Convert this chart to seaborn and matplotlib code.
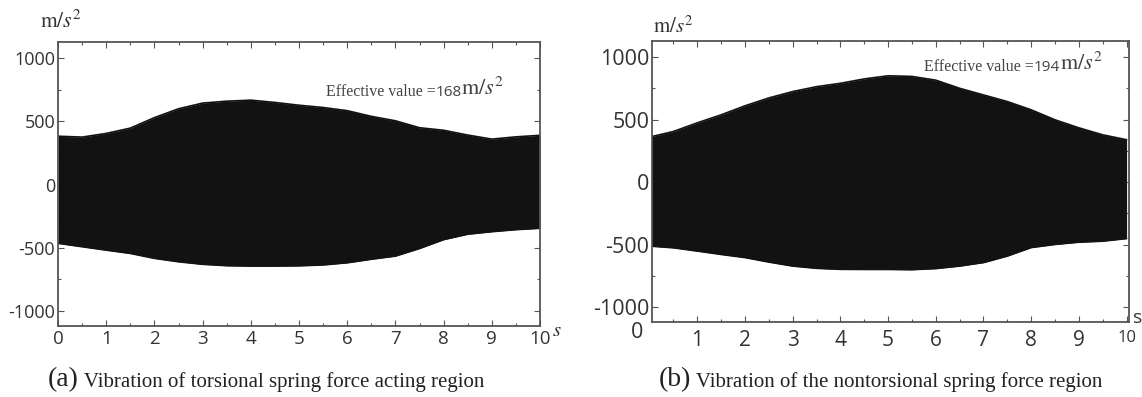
import matplotlib
matplotlib.use("Agg")
import matplotlib.pyplot as plt
from matplotlib.ticker import MultipleLocator
import pandas as pd
import seaborn as sns

# envelope of the vibration signal (m/s^2)
time_s = [0, 0.5, 1, 1.5, 2, 2.5, 3, 3.5, 4, 4.5, 5,
          5.5, 6, 6.5, 7, 7.5, 8, 8.5, 9, 9.5, 10]
upper_a = [383, 376, 405, 447, 530, 600, 645, 660, 668, 650, 628,
           610, 585, 540, 505, 450, 430, 392, 360, 378, 390]
lower_a = [-464, -491, -518, -544, -583, -610, -630, -641, -644, -644, -642,
           -635, -618, -590, -565, -505, -435, -392, -372, -356, -345]
upper_b = [360, 405, 474, 538, 610, 673, 724, 763, 790, 825, 850,
           845, 815, 750, 697, 644, 578, 498, 434, 378, 339]
lower_b = [-511, -525, -551, -578, -603, -639, -671, -689, -697, -698, -698,
           -700, -691, -671, -643, -591, -523, -498, -480, -472, -451]

rms_a = 168
rms_b = 194
caption_a = "Vibration of torsional spring force acting region"
caption_b = "Vibration of the nontorsional spring force region"

sns.set_style("ticks")
plt.rcParams["font.family"] = ["Open Sans", "DejaVu Sans"]
plt.rcParams["mathtext.fontset"] = "stix"
plt.rcParams["axes.unicode_minus"] = False

FILL = "#121212"
SPINE = "#555555"


def plot_signal(ax, upper, lower, tick_size, xlim):
    df = pd.DataFrame({"t": time_s, "upper": upper, "lower": lower})
    ax.fill_between(df["t"], df["lower"], df["upper"], color=FILL, lw=0)
    sns.lineplot(x="t", y="upper", data=df, ax=ax, color=FILL, lw=1.2)
    sns.lineplot(x="t", y="lower", data=df, ax=ax, color=FILL, lw=1.2)
    ax.set_xlim(*xlim)
    ax.set_ylim(-1118, 1128)
    ax.set_xlabel("")
    ax.set_ylabel("")
    ax.xaxis.set_major_locator(MultipleLocator(1))
    ax.xaxis.set_minor_locator(MultipleLocator(0.5))
    ax.yaxis.set_major_locator(MultipleLocator(500))
    ax.yaxis.set_minor_locator(MultipleLocator(250))
    ax.tick_params(which="both", direction="in", top=True, right=True,
                   color=SPINE, width=0.8)
    ax.tick_params(which="major", length=4)
    ax.tick_params(which="minor", length=2.5)
    ax.tick_params(axis="y", labelsize=tick_size[0], pad=2, labelcolor="#333333")
    ax.tick_params(axis="x", labelsize=tick_size[1], pad=3, labelcolor="#333333")
    for sp in ax.spines.values():
        sp.set_color(SPINE)
        sp.set_linewidth(1.3)


def rms_note(ax, x, y, value, size):
    t1 = ax.text(x, y, "Effective value =", transform=ax.transAxes,
                 family="Liberation Serif", fontsize=size, color="#444444",
                 va="baseline")
    t2 = ax.annotate(str(value), xy=(1, 0), xycoords=t1, va="bottom",
                     fontsize=size - 0.5, color="#444444")
    ax.annotate(r"$\mathrm{m}/s^2$", xy=(1, 0), xycoords=t2, va="bottom",
                fontsize=size + 4.5, color="#444444")


fig = plt.figure(figsize=(11.42, 3.97), dpi=100)
ax_a = fig.add_axes([0.0508, 0.1788, 0.4221, 0.7154])
ax_b = fig.add_axes([0.5709, 0.1889, 0.4177, 0.7078])

plot_signal(ax_a, upper_a, lower_a, (13, 13.5), (0, 10))
plot_signal(ax_b, upper_b, lower_b, (15.5, 15), (0.05, 10.05))

# panel (b): the "0" sits off the axis, "10" is smaller
ax_b.set_xticks(range(1, 11))
ax_b.set_xticklabels([str(i) for i in range(1, 10)] + [""])
ax_b.tick_params(axis="x", pad=6)
ax_b.text(10.0, -0.03, "10", fontsize=12, color="#333333", ha="center",
          va="top", transform=ax_b.get_xaxis_transform())
fig.text(637 / 1142, 1 - 332 / 397, "0", fontsize=15.5, color="#333333",
         ha="center", va="center")

rms_note(ax_a, 0.555, 0.81, rms_a, 11.5)
rms_note(ax_b, 0.57, 0.895, rms_b, 11.5)

# unit labels
fig.text(40 / 1142, 1 - 22 / 397, r"$\mathrm{m}/s^2$", fontsize=15.5,
         color="#333333", va="center")
fig.text(653 / 1142, 1 - 27 / 397, r"$\mathrm{m}/s^2$", fontsize=15,
         color="#333333", va="center")
fig.text(552 / 1142, 1 - 330 / 397, r"$s$", fontsize=15, color="#333333",
         va="center")
fig.text(1133 / 1142, 1 - 318 / 397, "s", fontsize=14, color="#333333",
         va="center")

# captions
for x0, tag, cap in [(48, "(a)", caption_a), (659, "(b)", caption_b)]:
    t = fig.text(x0 / 1142, 1 - 386 / 397, tag, family="Liberation Serif",
                 fontsize=20, color="#222222", va="baseline")
    ax_a.annotate(" " + cap, xy=(1, 0), xycoords=t, va="bottom",
                  family="Liberation Serif", fontsize=15, color="#222222",
                  annotation_clip=False)

fig.savefig("out.png", dpi=100)
